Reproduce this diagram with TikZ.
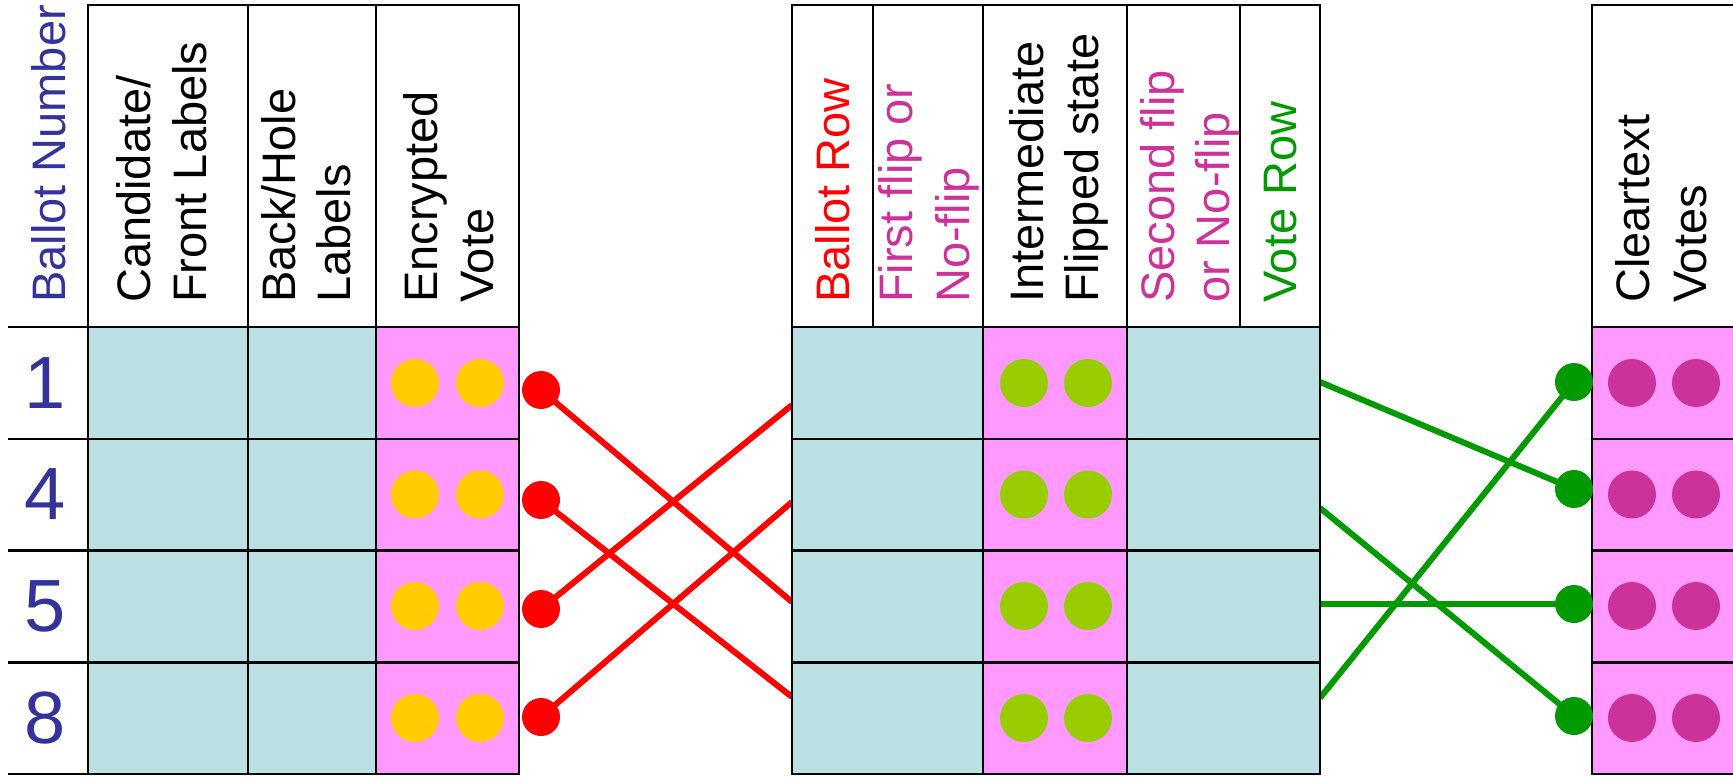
\documentclass[tikz,border=0pt]{standalone}
\usepackage{fontspec}
\setmainfont{Liberation Sans}
\definecolor{lblue}{HTML}{BBE0E3}
\definecolor{pinkc}{HTML}{FF99FF}
\definecolor{yel}{HTML}{FFCC00}
\definecolor{ygreen}{HTML}{99CC00}
\definecolor{magc}{HTML}{CC3399}
\definecolor{gline}{HTML}{009900}
\definecolor{bnum}{HTML}{333399}
\definecolor{redc}{HTML}{FF0000}
\begin{document}
\begin{tikzpicture}[x=1pt,y=-1pt,
  cell/.style={draw=black, line width=2.5pt, inner sep=0pt, outer sep=0pt, anchor=north west},
  hdr/.style={rotate=90, anchor=base west, inner sep=0pt, font=\fontsize{47}{55}\selectfont},
  num/.style={text=bnum, inner sep=0pt, font=\fontsize{74}{80}\selectfont},
  ball/.style={circle, minimum size=48pt, inner sep=0pt},
  pin/.style={circle, minimum size=38pt, inner sep=0pt},
  redl/.style={draw=redc, line width=6pt},
  grnl/.style={draw=gline, line width=6pt}
]
\clip (0,0) rectangle (1733,782);
\fill[white] (0,0) rectangle (1733,782);

% connector end points
\coordinate (r1) at (541,390);
\coordinate (r2) at (541,500);
\coordinate (r3) at (541,609);
\coordinate (r4) at (541,717);
\coordinate (ea) at (792,405);
\coordinate (eb) at (792,502);
\coordinate (ec) at (792,602);
\coordinate (ed) at (792,697);
\coordinate (g1) at (1574,382);
\coordinate (g2) at (1574,489);
\coordinate (g3) at (1574,604);
\coordinate (g4) at (1574,716);
\coordinate (sa) at (1320,382);
\coordinate (sb) at (1320,508);
\coordinate (sc) at (1320,604);
\coordinate (sd) at (1320,698);

\draw[redl] (r1) -- (ec);
\draw[redl] (r2) -- (ed);
\draw[redl] (r3) -- (ea);
\draw[redl] (r4) -- (eb);
\draw[grnl] (sa) -- (g2);
\draw[grnl] (sb) -- (g4);
\draw[grnl] (sc) -- (g3);
\draw[grnl] (sd) -- (g1);

% left table header
\node[cell, minimum width=160pt, minimum height=322pt] (hCand) at (88,5) {};
\node[cell, minimum width=128pt, minimum height=322pt] (hBack) at (248,5) {};
\node[cell, minimum width=143pt, minimum height=322pt] (hEnc) at (376,5) {};
% middle table header
\node[cell, minimum width=81pt, minimum height=322pt] (hBR) at (792,5) {};
\node[cell, minimum width=110pt, minimum height=322pt] (hFF) at (873,5) {};
\node[cell, minimum width=144pt, minimum height=322pt] (hIF) at (983,5) {};
\node[cell, minimum width=113pt, minimum height=322pt] (hSF) at (1127,5) {};
\node[cell, minimum width=80pt, minimum height=322pt] (hVR) at (1240,5) {};
% right table header
\node[cell, minimum width=250pt, minimum height=322pt] (hCT) at (1592,5) {};

% ballot number column lines
\foreach \y/\n in {327/a,438.75/b,550.5/c,662.25/d,774/e}{
  \coordinate (bl\n) at (8,\y);
  \coordinate (br\n) at (88,\y);
  \draw[line width=2.5pt] (bl\n) -- (br\n);
}

% rows
\foreach \i/\t/\c/\nm in {1/327/383/1,2/438.75/494.5/4,3/550.5/606/5,4/662.25/718/8}{
  \node[cell, fill=lblue, minimum width=160pt, minimum height=111.75pt] (Lc\i) at (88,\t) {};
  \node[cell, fill=lblue, minimum width=128pt, minimum height=111.75pt] (Lb\i) at (248,\t) {};
  \node[cell, fill=pinkc, minimum width=143pt, minimum height=111.75pt] (Le\i) at (376,\t) {};
  \node[cell, fill=lblue, minimum width=191pt, minimum height=111.75pt] (Ma\i) at (792,\t) {};
  \node[cell, fill=pinkc, minimum width=144pt, minimum height=111.75pt] (Mb\i) at (983,\t) {};
  \node[cell, fill=lblue, minimum width=193pt, minimum height=111.75pt] (Mc\i) at (1127,\t) {};
  \node[cell, fill=pinkc, minimum width=250pt, minimum height=111.75pt] (Rc\i) at (1592,\t) {};
  \node[num] (N\i) at (45,\c) {\nm};
  \node[ball, fill=yel] (y\i a) at (415,\c) {};
  \node[ball, fill=yel] (y\i b) at (480,\c) {};
  \node[ball, fill=ygreen] (v\i a) at (1024,\c) {};
  \node[ball, fill=ygreen] (v\i b) at (1088,\c) {};
  \node[ball, fill=magc] (c\i a) at (1632,\c) {};
  \node[ball, fill=magc] (c\i b) at (1696,\c) {};
}

% connector pins
\foreach \k in {1,2,3,4}{
  \node[pin, fill=redc] (R\k) at (r\k) {};
  \node[pin, fill=gline] (G\k) at (g\k) {};
}

% header texts
\node[hdr, text=bnum] (tBN) at (65,303) {Ballot Number};
\node[hdr] (tC1) at (150,303) {Candidate/};
\node[hdr] (tC2) at (206,303) {Front Labels};
\node[hdr] (tB1) at (295,303) {Back/Hole};
\node[hdr] (tB2) at (350,303) {Labels};
\node[hdr] (tE1) at (437,303) {Encrypted};
\node[hdr] (tE2) at (493,303) {Vote};
\node[hdr, text=redc] (tBR) at (849,303) {Ballot Row};
\node[hdr, text=magc] (tF1) at (912,303) {First flip or};
\node[hdr, text=magc] (tF2) at (969,303) {No-flip};
\node[hdr] (tI1) at (1043,303) {Intermediate};
\node[hdr] (tI2) at (1098,303) {Flipped state};
\node[hdr, text=magc] (tS1) at (1174,303) {Second flip};
\node[hdr, text=magc] (tS2) at (1229,303) {or No-flip};
\node[hdr, text=gline] (tVR) at (1296,303) {Vote Row};
\node[hdr] (tCT1) at (1649,303) {Cleartext};
\node[hdr] (tCT2) at (1706,303) {Votes};
\end{tikzpicture}
\end{document}
